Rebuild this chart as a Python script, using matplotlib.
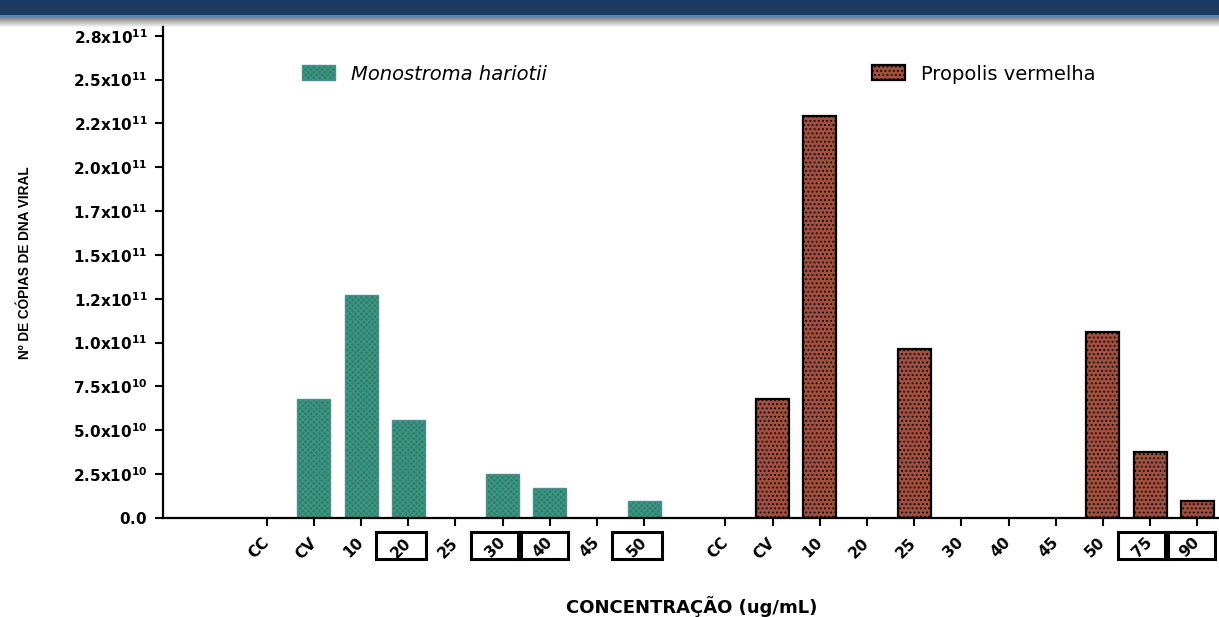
import matplotlib
matplotlib.use("Agg")
import matplotlib.pyplot as plt
import matplotlib.transforms as mtransforms
from matplotlib.patches import Rectangle
import numpy as np

# copies of viral DNA per concentration (ug/mL)
conc_mono = ['CC', 'CV', '10', '20', '25', '30', '40', '45', '50']
copies_mono = [0, 6.78e10, 1.272e11, 5.58e10, 0, 2.51e10, 1.71e10, 0, 0.95e10]
boxed_mono = ['20', '30', '40', '50']

conc_prop = ['CC', 'CV', '10', '20', '25', '30', '40', '45', '50', '75', '90']
copies_prop = [0, 6.77e10, 2.291e11, 0, 9.65e10, 0, 0, 0, 1.061e11, 3.76e10, 0.95e10]
boxed_prop = ['75', '90']

ytick_values = [0, 2.5e10, 5.0e10, 7.5e10, 1.0e11, 1.25e11, 1.5e11, 1.75e11,
                2.0e11, 2.25e11, 2.5e11, 2.75e11]
ytick_text = ['0.0', '2.5x10^10', '5.0x10^10', '7.5x10^10', '1.0x10^11', '1.2x10^11',
              '1.5x10^11', '1.7x10^11', '2.0x10^11', '2.2x10^11', '2.5x10^11', '2.8x10^11']

GAP = 1.72       # spacing between the two groups, in bar slots
W = 0.7          # bar width

plt.rcParams['font.family'] = ['DejaVu Sans']
plt.rcParams['mathtext.fontset'] = 'dejavusans'
plt.rcParams['hatch.linewidth'] = 0.8


def fmt_tick(s):
    if '^' not in s:
        return r'$\mathbf{' + s + '}$'
    base, exp = s.split('^')
    return r'$\mathbf{' + base + r'}^{\mathbf{' + exp + '}}$'


fig = plt.figure(figsize=(12.19, 6.17), dpi=100)

# header band with a soft shadow underneath
band = fig.add_axes([0, 1 - 28 / 617, 1, 28 / 617])
rows = []
for i in range(28):
    if i < 15:
        rows.append((0.106, 0.227, 0.384))
    elif i < 17:
        rows.append((0.33, 0.52, 0.74))
    else:
        g = 0.5 + 0.5 * (i - 17) / 10
        rows.append((g, g, g))
band.imshow(np.array(rows)[:, None, :], aspect='auto', interpolation='nearest')
band.set_axis_off()

ax = fig.add_axes([163 / 1219, 99 / 617, 1 - 163 / 1219, 491 / 617])

x_mono = np.arange(len(conc_mono))
x_prop = len(conc_mono) - 1 + GAP + np.arange(len(conc_prop))

bars_mono = ax.bar(x_mono, copies_mono, W, color='#1f8c5e', edgecolor='#4f8c92',
                   hatch='xxxxxx', linewidth=1.0, label='Monostroma hariotii')
bars_prop = ax.bar(x_prop, copies_prop, W, color='#a34f3b', edgecolor='black',
                   hatch='....', linewidth=1.6, label='Propolis vermelha')
# empty wells carry no bar outline
for b, v in zip(list(bars_mono) + list(bars_prop), copies_mono + copies_prop):
    if v == 0:
        b.set_visible(False)

ax.set_ylim(0, 2.8e11)
ax.set_xlim(-2.197, 20.18)
ax.spines['top'].set_visible(False)
ax.spines['right'].set_visible(False)
ax.spines['left'].set_linewidth(1.6)
ax.spines['bottom'].set_linewidth(1.6)

ax.set_yticks(ytick_values, [fmt_tick(s) for s in ytick_text], fontsize=11)
ax.tick_params(axis='y', direction='out', length=6, width=1.5, pad=5)

xpos = np.concatenate([x_mono, x_prop])
xlab = conc_mono + conc_prop
ax.set_xticks(xpos, xlab, rotation=45, ha='right', rotation_mode='anchor',
              fontweight='bold', fontsize=11)
for t in ax.get_xticklabels():
    t.set_va('center')
ax.tick_params(axis='x', direction='out', length=6, width=1.5, pad=10)

# frames around selected concentrations
trans = mtransforms.blended_transform_factory(ax.transData, ax.transAxes)
for xs, labels, boxed in [(x_mono, conc_mono, boxed_mono), (x_prop, conc_prop, boxed_prop)]:
    for xv, lab in zip(xs, labels):
        if lab in boxed:
            ax.add_patch(Rectangle((xv - 0.68, -0.0835), 1.06, 0.055, transform=trans,
                                   fill=False, edgecolor='black', linewidth=2.2,
                                   clip_on=False))

# legend keys taken from the first drawn bar of each series
key_mono = next(b for b in bars_mono if b.get_visible())
key_prop = next(b for b in bars_prop if b.get_visible())
leg1 = fig.legend([key_mono], ['Monostroma hariotii'], loc='center left',
                  bbox_to_anchor=(301.7 / 1219, 1 - 74 / 617),
                  frameon=False, borderpad=0, borderaxespad=0, handlelength=1.7,
                  handleheight=0.78, handletextpad=0.85,
                  prop={'size': 14, 'style': 'italic'})
leg2 = fig.legend([key_prop], ['Propolis vermelha'], loc='center left',
                  bbox_to_anchor=(871.7 / 1219, 1 - 74 / 617),
                  frameon=False, borderpad=0, borderaxespad=0, handlelength=1.7,
                  handleheight=0.78, handletextpad=0.85, prop={'size': 14})

fig.text(25 / 1219, 1 - 262.5 / 617, 'Nº DE CÓPIAS DE DNA VIRAL', rotation=90,
         ha='center', va='center', fontsize=9.8, fontweight='bold',
         family=['Liberation Sans Narrow', 'Liberation Sans'])
fig.text(691.7 / 1219, 1 - 607 / 617, 'CONCENTRAÇÃO (ug/mL)', ha='center', va='center',
         fontsize=13, fontweight='bold')

fig.savefig('out.png', dpi=100)
